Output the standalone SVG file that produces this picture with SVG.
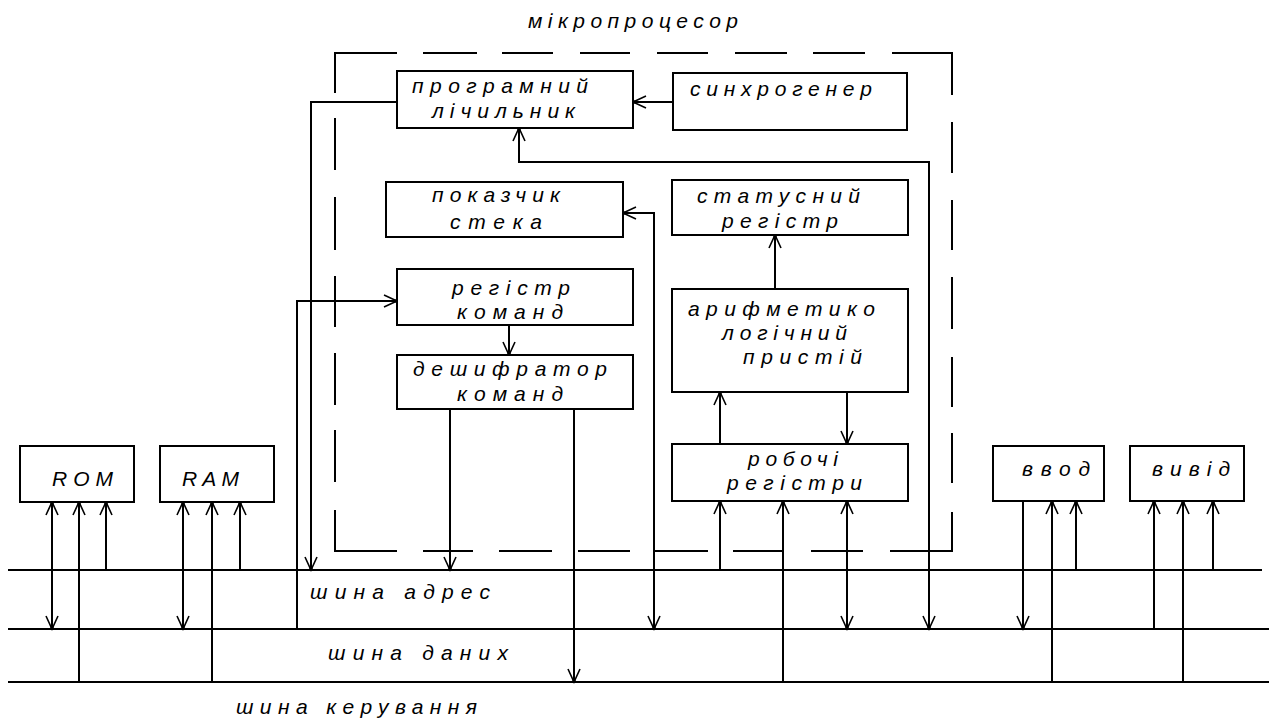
<svg xmlns="http://www.w3.org/2000/svg" width="1269" height="722" viewBox="0 0 1269 722">
<style>
.box{fill:#fff;stroke:#000;stroke-width:2}
.wire{fill:none;stroke:#000;stroke-width:2}
.frame{fill:none;stroke:#000;stroke-width:2}
text{font-family:"Liberation Sans","DejaVu Sans",sans-serif;font-style:italic;font-size:21px;fill:#000}
</style>
<defs>
<marker id="arr" viewBox="-14 -8 16 16" refX="0" refY="0" markerWidth="16" markerHeight="16" markerUnits="userSpaceOnUse" orient="auto-start-reverse">
<path d="M-13,-6 L0,0 L-13,6" fill="none" stroke="#000" stroke-width="1.6"/>
<circle cx="-1" cy="0" r="1.8" fill="#000"/>
</marker>
</defs>
<rect width="1269" height="722" fill="#fff"/>

<g id="buses">
<line class="wire" x1="8" y1="570" x2="1262" y2="570"/>
<line class="wire" x1="8" y1="629" x2="1269" y2="629"/>
<line class="wire" x1="8" y1="682" x2="1269" y2="682"/>
<text x="310" y="599" textLength="180" lengthAdjust="spacing">шина адрес</text>
<text x="328" y="660" textLength="180" lengthAdjust="spacing">шина даних</text>
<text x="236" y="714" textLength="241" lengthAdjust="spacing">шина керування</text>
</g>

<g id="microprocessor">
<path class="frame" d="M335,93 V53 H397 M423,53 H477 M502,53 H553 M580,53 H630 M657,53 H708 M735,53 H787 M813,53 H865 M892,53 H952 V95 M952,122 V173 M952,200 V250 M952,277 V329 M952,357 V407 M952,433 V483 M952,512 V551 H890 M863,551 H811 M783,551 H733 M708,551 H655 M630,551 H578 M552,551 H499 M473,551 H423 M397,551 H335 V510 M335,482 V430 M335,405 V353 M335,327 V276 M335,250 V197 M335,170 V118"/>
<text x="528" y="28" textLength="210" lengthAdjust="spacing">мікропроцесор</text>
</g>

<g id="connectors">
<path class="wire" d="M397,102 H311 V570" marker-end="url(#arr)"/>
<path class="wire" d="M297,629 V301 H397" marker-end="url(#arr)"/>
<path class="wire" d="M673,102 H633" marker-end="url(#arr)"/>
<path class="wire" d="M519,128 V162 H929 V629" marker-start="url(#arr)" marker-end="url(#arr)"/>
<path class="wire" d="M623,213 H654 V629" marker-start="url(#arr)" marker-end="url(#arr)"/>
<path class="wire" d="M509,325 V355" marker-end="url(#arr)"/>
<path class="wire" d="M450,409 V570" marker-end="url(#arr)"/>
<path class="wire" d="M574,409 V682" marker-end="url(#arr)"/>
<path class="wire" d="M775,289 V235" marker-end="url(#arr)"/>
<path class="wire" d="M720,444 V392" marker-end="url(#arr)"/>
<path class="wire" d="M847,392 V444" marker-end="url(#arr)"/>
<path class="wire" d="M720,570 V501" marker-end="url(#arr)"/>
<path class="wire" d="M783,682 V501" marker-end="url(#arr)"/>
<path class="wire" d="M847,501 V629" marker-start="url(#arr)" marker-end="url(#arr)"/>
<path class="wire" d="M52,502 V629" marker-start="url(#arr)" marker-end="url(#arr)"/>
<path class="wire" d="M79,682 V502" marker-end="url(#arr)"/>
<path class="wire" d="M106,570 V502" marker-end="url(#arr)"/>
<path class="wire" d="M183,502 V629" marker-start="url(#arr)" marker-end="url(#arr)"/>
<path class="wire" d="M212,682 V502" marker-end="url(#arr)"/>
<path class="wire" d="M240,570 V502" marker-end="url(#arr)"/>
<path class="wire" d="M1023,501 V629" marker-end="url(#arr)"/>
<path class="wire" d="M1052,682 V501" marker-end="url(#arr)"/>
<path class="wire" d="M1076,570 V501" marker-end="url(#arr)"/>
<path class="wire" d="M1154,629 V501" marker-end="url(#arr)"/>
<path class="wire" d="M1183,682 V501" marker-end="url(#arr)"/>
<path class="wire" d="M1213,570 V501" marker-end="url(#arr)"/>
</g>

<g id="program-counter">
<rect class="box" x="397" y="71" width="236" height="57"/>
<text x="412" y="93" textLength="176" lengthAdjust="spacing">програмний</text>
<text x="432" y="118" textLength="143" lengthAdjust="spacing">лічильник</text>
</g>
<g id="clock-generator">
<rect class="box" x="673" y="73" width="234" height="57"/>
<text x="690" y="96" textLength="182" lengthAdjust="spacing">синхрогенер</text>
</g>
<g id="stack-pointer">
<rect class="box" x="386" y="182" width="237" height="55"/>
<text x="432" y="202" textLength="128" lengthAdjust="spacing">показчик</text>
<text x="450" y="229" textLength="92" lengthAdjust="spacing">стека</text>
</g>
<g id="status-register">
<rect class="box" x="672" y="180" width="236" height="55"/>
<text x="697" y="203" textLength="163" lengthAdjust="spacing">статусний</text>
<text x="722" y="228" textLength="116" lengthAdjust="spacing">регістр</text>
</g>
<g id="instruction-register">
<rect class="box" x="397" y="269" width="236" height="56"/>
<text x="452" y="295" textLength="118" lengthAdjust="spacing">регістр</text>
<text x="457" y="319" textLength="106" lengthAdjust="spacing">команд</text>
</g>
<g id="decoder">
<rect class="box" x="397" y="355" width="236" height="54"/>
<text x="413" y="376" textLength="194" lengthAdjust="spacing">дешифратор</text>
<text x="457" y="401" textLength="106" lengthAdjust="spacing">команд</text>
</g>
<g id="alu">
<rect class="box" x="672" y="289" width="236" height="103"/>
<text x="688" y="316" textLength="187" lengthAdjust="spacing">арифметико</text>
<text x="722" y="340" textLength="125" lengthAdjust="spacing">логічний</text>
<text x="743" y="364" textLength="119" lengthAdjust="spacing">пристій</text>
</g>
<g id="working-registers">
<rect class="box" x="672" y="444" width="236" height="57"/>
<text x="748" y="466" textLength="90" lengthAdjust="spacing">робочі</text>
<text x="727" y="490" textLength="135" lengthAdjust="spacing">регістри</text>
</g>
<g id="rom">
<rect class="box" x="20" y="446" width="114" height="56"/>
<text x="52" y="486" textLength="61" lengthAdjust="spacing">ROM</text>
</g>
<g id="ram">
<rect class="box" x="160" y="446" width="114" height="56"/>
<text x="182" y="486" textLength="57" lengthAdjust="spacing">RAM</text>
</g>
<g id="input">
<rect class="box" x="993" y="446" width="111" height="55"/>
<text x="1022" y="476" textLength="68" lengthAdjust="spacing">ввод</text>
</g>
<g id="output">
<rect class="box" x="1130" y="446" width="114" height="55"/>
<text x="1152" y="476" textLength="78" lengthAdjust="spacing">вивід</text>
</g>
</svg>
